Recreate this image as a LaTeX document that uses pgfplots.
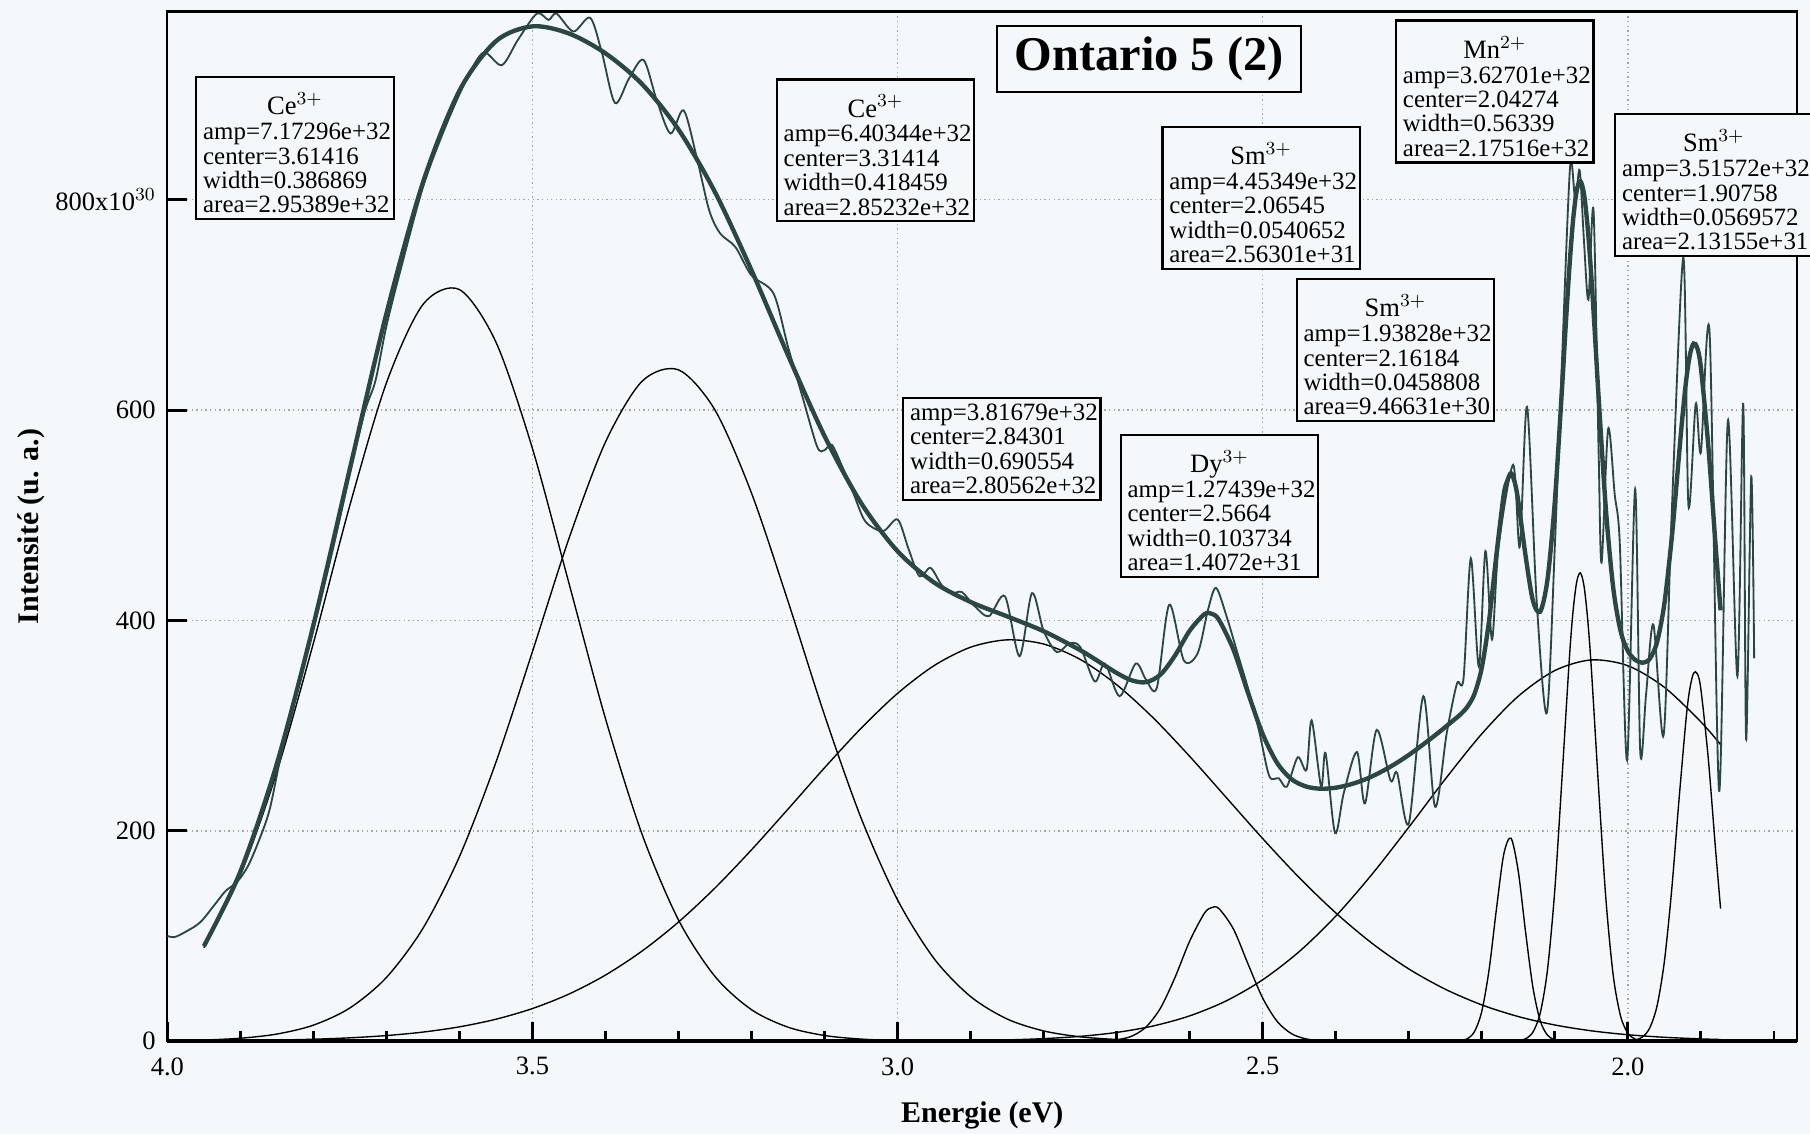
\documentclass[border=0pt]{standalone}
\usepackage{fontspec}
\setmainfont{Liberation Serif}
\usepackage{pgfplots}
\pgfplotsset{compat=1.18}
\definecolor{fitc}{RGB}{44,70,68}
\definecolor{bgc}{RGB}{245,248,250}
\tikzset{anbox/.style={draw=black, line width=1pt, fill=bgc, anchor=north west, inner xsep=3pt, inner ysep=2.5pt, align=left, text width=2.8cm, font=\fontsize{10.8}{10.6}\selectfont},
anttl/.style={anchor=base, inner sep=0pt, font=\fontsize{11.5}{12}\selectfont}}
\begin{document}
\begin{tikzpicture}
\fill[bgc] (-2.552,-1.408) rectangle (25.045,15.875);
\begin{axis}[
  at={(0,0)}, anchor=south west,
  width=24.851cm, height=15.699cm, scale only axis,
  x dir=reverse, xmin=1.768, xmax=4.0, ymin=0, ymax=979,
  clip=false,
  axis line style={line width=0.9pt},
  xtick={2.0,2.5,3.0,3.5,4.0}, xticklabels={2.0,2.5,3.0,3.5,4.0},
  minor xtick={1.8,1.9,2.1,2.2,2.3,2.4,2.6,2.7,2.8,2.9,3.1,3.2,3.3,3.4,3.6,3.7,3.8,3.9},
  ytick={0,200,400,600,800}, yticklabels={0,200,400,600,{800x10$^{30}$}},
  tick align=inside, tick pos=left,
  major tick length=0.3cm, minor tick length=0.15cm,
  every tick/.style={black, line width=1.2pt},
  grid=major, major grid style={gray!70, line width=0.6pt, dash pattern=on 0.6pt off 1.4pt},
  tick label style={font=\fontsize{11.5}{12}\selectfont},
  yticklabel style={xshift=-1.5pt},
  xticklabel style={yshift=-3.5pt},
  xlabel={Energie (eV)}, ylabel={Intensité (u. a.)},
  xlabel style={at={(axis description cs:0.5,-0.0717)}, anchor=center, font=\fontsize{13}{15}\selectfont\bfseries},
  ylabel style={at={(axis description cs:-0.0836,0.5)}, anchor=center, font=\fontsize{13}{15}\selectfont\bfseries},
]
\addplot[black, line width=0.6pt, smooth] table {
3.95 88.9
3.90 157.9
3.85 256.1
3.80 378.5
3.75 509.7
3.70 625.9
3.65 700.4
3.60 714.6
3.55 664.6
3.50 563.4
3.45 435.3
3.40 306.6
3.35 196.9
3.30 115.2
3.25 61.5
3.20 29.9
3.15 13.3
3.10 5.4
3.05 2.0
3.00 0.66
2.95 0.2
2.90 0.05
2.85 0
1.873 0
};
\addplot[black, line width=0.6pt, smooth] table {
3.95 1.06
3.90 2.79
3.85 6.79
3.80 15.24
3.75 31.6
3.70 60.6
3.65 107.3
3.60 175.5
3.55 265.3
3.50 370.5
3.45 478.0
3.40 569.7
3.35 627.4
3.30 638.3
3.25 600.0
3.20 521.0
3.15 418.1
3.10 309.9
3.05 212.2
3.00 134.3
2.95 78.5
2.90 42.4
2.85 21.1
2.80 9.75
2.75 4.16
2.70 1.63
2.65 0.59
2.60 0.2
2.55 0.05
2.50 0
1.873 0
};
\addplot[black, line width=0.6pt, smooth] table {
3.95 0.31
3.90 0.58
3.85 1.05
3.80 1.86
3.75 3.20
3.70 5.34
3.65 8.65
3.60 13.64
3.55 20.88
3.50 31.04
3.45 44.82
3.40 62.87
3.35 85.66
3.30 113.3
3.25 145.7
3.20 182.0
3.15 220.7
3.10 260.0
3.05 297.5
3.00 330.7
2.95 357.1
2.90 374.6
2.85 381.6
2.80 377.6
2.75 363.0
2.70 338.9
2.65 307.4
2.60 270.8
2.55 231.7
2.50 192.6
2.45 155.5
2.40 122.0
2.35 92.9
2.30 68.7
2.25 49.4
2.20 34.5
2.15 23.4
2.10 15.4
2.05 9.86
2.00 6.13
1.95 3.70
1.90 2.17
1.873 1.6
};
\addplot[black, line width=0.6pt, smooth] table {
3.95 0
3.20 0
3.10 0.02
3.05 0.05
3.00 0.12
2.95 0.27
2.90 0.59
2.85 1.22
2.80 2.42
2.75 4.59
2.70 8.33
2.65 14.47
2.60 24.07
2.55 38.3
2.50 58.4
2.45 85.2
2.40 118.9
2.35 159.0
2.30 203.4
2.25 249.2
2.20 292.2
2.15 328.0
2.10 352.4
2.05 362.5
2.00 357.0
1.95 336.5
1.90 303.6
1.873 282.0
};
\addplot[black, line width=0.6pt, smooth] table {
3.95 0
2.80 0
2.75 0.02
2.72 0.29
2.70 1.28
2.68 4.58
2.66 13.33
2.64 31.5
2.62 60.8
2.60 95.2
2.58 121.5
2.57 127.0
2.56 126.1
2.54 106.5
2.52 73.2
2.50 40.9
2.48 18.6
2.46 6.89
2.44 2.08
2.42 0.51
2.40 0.10
2.36 0
1.873 0
};
\addplot[black, line width=0.6pt, smooth] table {
3.95 0
2.26 0
2.24 0.06
2.23 0.42
2.22 2.24
2.21 9.09
2.20 28.4
2.19 68.0
2.18 125.3
2.17 177.4
2.16 193.0
2.15 161.3
2.14 103.6
2.13 51.2
2.12 19.4
2.11 5.65
2.10 1.27
2.09 0.22
2.08 0.03
2.06 0
1.873 0
};
\addplot[black, line width=0.6pt, smooth] table {
3.95 0
2.18 0
2.16 0.09
2.15 0.51
2.14 2.30
2.13 8.61
2.12 26.6
2.11 68.1
2.10 144.0
2.09 252.0
2.08 364.8
2.075 408.9
2.07 436.8
2.065 445.3
2.06 432.7
2.055 401.1
2.05 354.6
2.04 240.3
2.03 134.8
2.02 62.5
2.01 24.0
2.00 7.61
1.99 2.0
1.98 0.43
1.97 0.08
1.95 0
1.873 0
};
\addplot[black, line width=0.6pt, smooth] table {
3.95 0
2.03 0
2.01 0.05
2.00 0.24
1.99 1.06
1.98 3.98
1.97 12.6
1.96 33.6
1.95 75.6
1.94 143.4
1.93 229.0
1.92 308.3
1.915 335.5
1.91 349.9
1.905 349.6
1.90 334.7
1.89 269.8
1.88 183.4
1.873 126.0
};
\addplot[fitc, line width=0.8pt, smooth] table {
4.000 100
3.990 99
3.975 104
3.955 113
3.935 130
3.920 143
3.905 151
3.890 166
3.875 190
3.860 220
3.845 270
3.830 312
3.810 365
3.790 420
3.770 478
3.750 540
3.730 598
3.715 628
3.700 680
3.680 735
3.650 812
3.620 868
3.590 915
3.567 940
3.542 928
3.520 952
3.494 977
3.478 971
3.467 977
3.444 960
3.421 973
3.405 940
3.387 892
3.368 915
3.348 933
3.330 895
3.311 863
3.293 885
3.275 840
3.258 790
3.243 768
3.222 755
3.200 728
3.170 711
3.150 660
3.130 612
3.110 565
3.100 562
3.090 567
3.075 545
3.060 520
3.044 494
3.020 485
3.000 496
2.985 468
2.970 442
2.955 450
2.940 434
2.926 426
2.912 427
2.895 414
2.875 404
2.853 423
2.833 366
2.816 426
2.800 390
2.782 370
2.765 378
2.750 375
2.730 342
2.716 359
2.696 328
2.674 359
2.660 344
2.645 336
2.628 415
2.608 362
2.589 369
2.575 410
2.564 431
2.550 405
2.535 370
2.520 335
2.505 295
2.491 252
2.478 250
2.467 242
2.452 270
2.440 258
2.433 305
2.420 242
2.414 274
2.401 198
2.389 236
2.371 275
2.360 226
2.344 296
2.325 248
2.316 255
2.300 207
2.280 328
2.264 223
2.248 293
2.234 340
2.225 345
2.215 459
2.204 356
2.195 466
2.186 382
2.177 470
2.157 548
2.148 470
2.138 603
2.125 420
2.111 312
2.100 470
2.090 650
2.079 832
2.072 800
2.066 828
2.060 760
2.054 705
2.047 790
2.040 560
2.036 455
2.027 582
2.018 520
2.011 473
2.001 267
1.990 525
1.983 275
1.975 330
1.965 396
1.951 291
1.940 500
1.924 745
1.917 509
1.907 606
1.900 560
1.888 673
1.875 238
1.863 590
1.850 347
1.842 606
1.838 287
1.831 537
1.827 364
};
\addplot[fitc, line width=1.9pt, smooth] table {
3.95 90.3
3.90 161.3
3.85 263.9
3.80 395.6
3.75 544.5
3.70 691.8
3.65 816.4
3.60 903.7
3.55 950.8
3.50 964.9
3.45 958.1
3.40 939.2
3.35 910.0
3.30 866.8
3.25 807.2
3.20 732.9
3.15 652.1
3.10 575.3
3.05 511.7
3.00 465.8
2.95 436.1
2.90 417.6
2.85 403.9
2.80 389.8
2.75 371.8
2.72 358.9
2.70 350.1
2.68 343.2
2.66 341.3
2.64 348.5
2.62 366.8
2.60 390.3
2.58 405.9
2.57 406.4
2.56 400.7
2.54 372.1
2.52 330.9
2.50 291.9
2.48 264.3
2.46 248.8
2.44 242.0
2.42 240.0
2.40 241.0
2.38 244.1
2.36 248.8
2.34 255.3
2.32 263.1
2.30 272.1
2.28 282.3
2.26 293.0
2.24 304.4
2.23 310.2
2.22 317.7
2.21 330.2
2.20 355.1
2.19 400.0
2.18 462.4
2.17 519.5
2.165 532.9
2.16 540.0
2.155 531.7
2.15 513.2
2.14 461.3
2.13 418.9
2.12 408.4
2.11 439.1
2.10 513.1
2.09 622.0
2.085 681.1
2.08 736.0
2.075 780.6
2.07 808.9
2.065 817.7
2.06 805.3
2.055 773.6
2.05 727.0
2.045 671.0
2.04 612.0
2.03 505.2
2.02 431.0
2.01 390.1
2.00 371.0
1.99 362.6
1.98 359.8
1.97 363.5
1.96 379.4
1.95 415.8
1.94 477.5
1.935 516.0
1.93 556.6
1.925 595.5
1.92 629.0
1.915 652.6
1.91 663.3
1.905 659.2
1.90 640.5
1.89 567.6
1.88 472.9
1.873 409.6
};
\draw[line width=1.8pt] (axis cs:4.0,0) -- (axis cs:1.768,0);
\node[anbox] (b1) at (axis cs:3.962,917.7) {\rule{0pt}{10pt}\\[4pt]amp=7.17296e+32\\center=3.61416\\width=0.386869\\area=2.95389e+32};
\node[anttl] at ([yshift=-16.8pt]b1.north) {Ce$^{3+}$};
\node[anbox] (b2) at (axis cs:3.167,915.5) {\rule{0pt}{10pt}\\[4pt]amp=6.40344e+32\\center=3.31414\\width=0.418459\\area=2.85232e+32};
\node[anttl] at ([yshift=-16.8pt]b2.north) {Ce$^{3+}$};
\node[anbox] at (axis cs:2.994,612.5) {amp=3.81679e+32\\center=2.84301\\width=0.690554\\area=2.80562e+32};
\node[anbox] (b4) at (axis cs:2.696,577.4) {\rule{0pt}{10pt}\\[4pt]amp=1.27439e+32\\center=2.5664\\width=0.103734\\area=1.4072e+31};
\node[anttl] at ([yshift=-16.8pt]b4.north) {Dy$^{3+}$};
\node[anbox] (b5) at (axis cs:2.639,870.5) {\rule{0pt}{10pt}\\[4pt]amp=4.45349e+32\\center=2.06545\\width=0.0540652\\area=2.56301e+31};
\node[anttl] at ([yshift=-16.8pt]b5.north) {Sm$^{3+}$};
\node[anbox] (b6) at (axis cs:2.455,725.6) {\rule{0pt}{10pt}\\[4pt]amp=1.93828e+32\\center=2.16184\\width=0.0458808\\area=9.46631e+30};
\node[anttl] at ([yshift=-16.8pt]b6.north) {Sm$^{3+}$};
\node[anbox] (b7) at (axis cs:2.319,971.5) {\rule{0pt}{10pt}\\[4pt]amp=3.62701e+32\\center=2.04274\\width=0.56339\\area=2.17516e+32};
\node[anttl] at ([yshift=-16.8pt]b7.north) {Mn$^{2+}$};
\node[anbox] (b8) at (axis cs:2.019,882.5) {\rule{0pt}{10pt}\\[4pt]amp=3.51572e+32\\center=1.90758\\width=0.0569572\\area=2.13155e+31};
\node[anttl] at ([yshift=-16.8pt]b8.north) {Sm$^{3+}$};
\node[draw=black, line width=1pt, fill=bgc, anchor=north west, minimum width=4.63cm, minimum height=1.0cm, font=\fontsize{21}{24}\selectfont\bfseries] at (axis cs:2.865,966) {Ontario 5 (2)};
\end{axis}
\pgfresetboundingbox
\path[use as bounding box] (-2.552,-1.408) rectangle (25.045,15.875);
\end{tikzpicture}
\end{document}
